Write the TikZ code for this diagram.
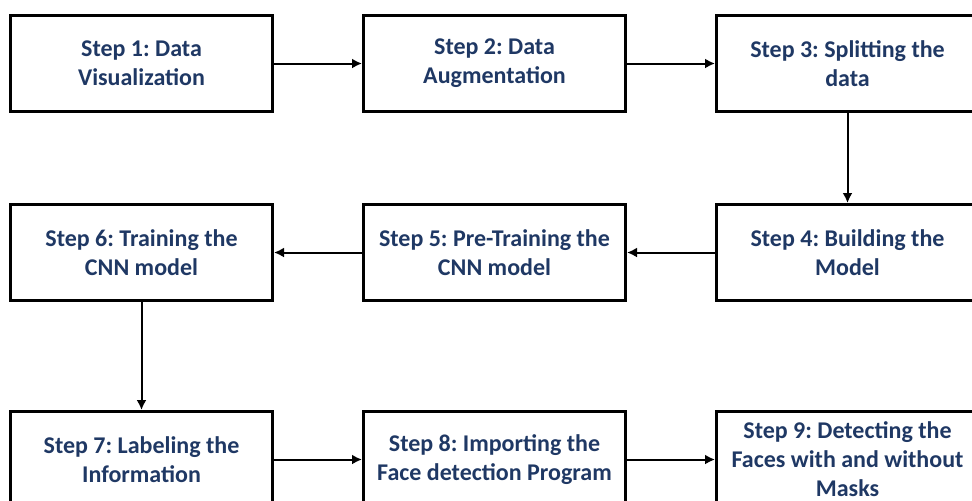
\documentclass[tikz,border=0pt]{standalone}
\usepackage{fontspec}
\setmainfont{Carlito}
\usepackage{xcolor}
\usetikzlibrary{arrows.meta,positioning}
\definecolor{stepblue}{HTML}{1F3864}
\frenchspacing

\begin{document}
\begin{tikzpicture}[font=\fontsize{12}{14.5}\selectfont\bfseries,
  stepbox/.style={draw, line width=1.5pt, align=center, text=stepblue,
    minimum width=131pt, minimum height=48pt, inner sep=2pt},
  flow/.style={-{Latex[length=5pt,width=5pt]}, line width=1pt},
  node distance=45pt and 44pt,
]
\clip (0,0) rectangle (486pt,-250pt);
\node[stepbox, anchor=north west] (s1) at (4.5pt,-7pt) {Step 1: Data\\Visualization};
\node[stepbox, right=of s1] (s2) {Step 2: Data\\Augmentation};
\node[stepbox, right=of s2] (s3) {Step 3: Splitting the\\data};
\node[stepbox, below=45pt of s3] (s4) {Step 4: Building the\\Model};
\node[stepbox, left=of s4] (s5) {Step 5: Pre-Training the\\CNN model};
\node[stepbox, left=of s5] (s6) {Step 6: Training the\\CNN model};
\node[stepbox, below=54pt of s6] (s7) {Step 7: Labeling the\\Information};
\node[stepbox, right=of s7] (s8) {Step 8: Importing the\\Face detection Program};
\node[stepbox, right=of s8] (s9) {Step 9: Detecting the\\Faces with and without\\Masks};

\draw[flow] (s1) -- (s2);
\draw[flow] (s2) -- (s3);
\draw[flow] (s3) -- (s4);
\draw[flow] (s4) -- (s5);
\draw[flow] (s5) -- (s6);
\draw[flow] (s6) -- (s7);
\draw[flow] (s7) -- (s8);
\draw[flow] (s8) -- (s9);
\end{tikzpicture}
\end{document}
